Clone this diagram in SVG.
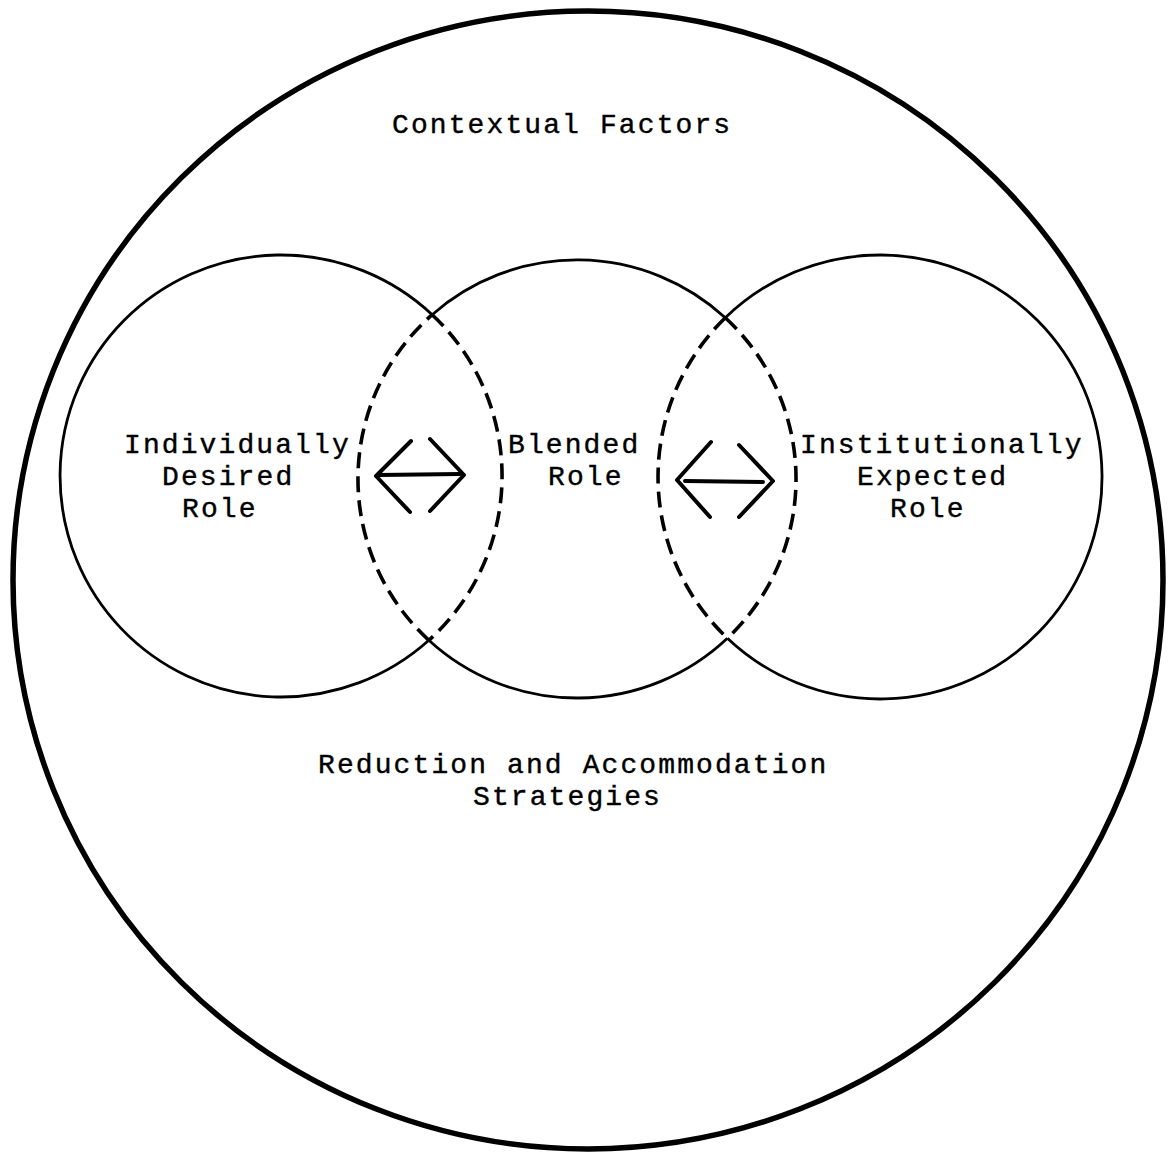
<svg xmlns="http://www.w3.org/2000/svg" width="1168" height="1155" viewBox="0 0 1168 1155">
<style>
  text { font-family: "Liberation Mono", "DejaVu Sans Mono", monospace; font-size: 28px; letter-spacing: 2.1px; fill: #000; stroke: #000; stroke-width: 0.4; }
  .solid { fill: none; stroke: #000; stroke-width: 2.8; }
  .dash { fill: none; stroke: #000; stroke-width: 3.6; stroke-dasharray: 16 8; }
  .arrow { fill: none; stroke: #000; stroke-width: 4; stroke-linecap: round; stroke-linejoin: round; }
</style>
<rect width="1168" height="1155" fill="#fff"/>
<g id="context">
  <ellipse cx="588" cy="580" rx="575" ry="569" fill="none" stroke="#000" stroke-width="5.5"/>
  <text x="392" y="133">Contextual Factors</text>
  <text x="318" y="773">Reduction and Accommodation</text>
  <text x="473" y="805">Strategies</text>
</g>
<g id="individual">
  <path class="solid" d="M 432.15 314.7 A 221 221 0 1 0 428.85 640.3"/>
  <path class="dash" d="M 432.15 314.7 A 221 221 0 0 1 428.85 640.3"/>
  <text x="124" y="453">Individually</text>
  <text x="162" y="485">Desired</text>
  <text x="182" y="517">Role</text>
</g>
<g id="blended">
  <path class="solid" d="M 432.15 314.7 A 219 219 0 0 1 725.3 317.8"/>
  <path class="dash" d="M 725.3 317.8 A 219 219 0 0 1 727.4 638.2"/>
  <path class="solid" d="M 727.4 638.2 A 219 219 0 0 1 428.85 640.3"/>
  <path class="dash" d="M 428.85 640.3 A 219 219 0 0 1 432.15 314.7"/>
  <text x="508" y="453">Blended</text>
  <text x="548" y="485">Role</text>
</g>
<g id="institutional">
  <path class="solid" d="M 725.3 317.8 A 222 222 0 1 1 727.4 638.2"/>
  <path class="dash" d="M 725.3 317.8 A 222 222 0 0 0 727.4 638.2"/>
  <text x="800" y="453">Institutionally</text>
  <text x="857" y="485">Expected</text>
  <text x="890" y="517">Role</text>
</g>
<g id="connectors">
  <path class="arrow" d="M 411 441 L 376 476 L 410 512"/>
  <path class="arrow" d="M 430 439 L 464 475 L 430 511"/>
  <line class="arrow" x1="379" y1="475" x2="460" y2="474" stroke-width="3.5"/>
  <path class="arrow" d="M 711 442 L 677 480 L 710 517"/>
  <path class="arrow" d="M 739 445 L 773 481 L 739 517"/>
  <line class="arrow" x1="685" y1="481" x2="763" y2="482" stroke-width="5"/>
</g>
</svg>
